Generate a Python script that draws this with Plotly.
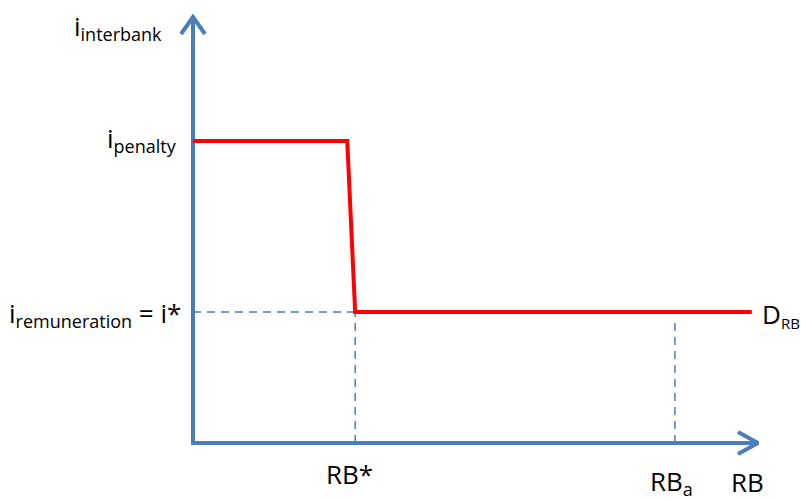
import plotly.graph_objects as go

# Conceptual chart values (axis units 0-100)
i_penalty = 70.9
i_remuneration = 30.75
rb_kink = 27.3
rb_star = 28.7
rb_a = 85.3
rb_a_dash_top = 28.4
d_end = 98.9
axis_end = 100

demand_x = [0, rb_kink, rb_star, d_end]
demand_y = [i_penalty, i_penalty, i_remuneration, i_remuneration]

BLUE = "#4A7EBB"
RED = "#FF0000"
SX, SY = 5.65, 4.26  # px per unit
OX, OY = 193, 443    # origin pixel


def px(xp, yp):
    return (xp - OX) / SX, (OY - yp) / SY


fig = go.Figure()

# dashed guide lines
fig.add_trace(go.Scatter(x=[0, rb_star], y=[i_remuneration, i_remuneration], mode="lines",
                         line=dict(color=BLUE, width=1.5, dash="8px,6px"), hoverinfo="skip"))
fig.add_trace(go.Scatter(x=[rb_star, rb_star], y=[0, i_remuneration], mode="lines",
                         line=dict(color=BLUE, width=1.5, dash="8px,6px"), hoverinfo="skip"))
fig.add_trace(go.Scatter(x=[rb_a, rb_a], y=[0, rb_a_dash_top], mode="lines",
                         line=dict(color=BLUE, width=1.5, dash="8px,6px"), hoverinfo="skip"))

# axes with arrows
fig.add_trace(go.Scatter(x=[0, 0, axis_end], y=[axis_end, 0, 0], mode="lines",
                         line=dict(color=BLUE, width=4), hoverinfo="skip"))
fig.add_trace(go.Scatter(x=[-12 / SX, 0, 12 / SX], y=[axis_end - 17 / SY, axis_end, axis_end - 17 / SY],
                         mode="lines", line=dict(color=BLUE, width=4), hoverinfo="skip"))
fig.add_trace(go.Scatter(x=[axis_end - 20 / SX, axis_end, axis_end - 20 / SX], y=[11 / SY, 0, -11 / SY],
                         mode="lines", line=dict(color=BLUE, width=4), hoverinfo="skip"))

# demand curve
fig.add_trace(go.Scatter(x=demand_x, y=demand_y, mode="lines",
                         line=dict(color=RED, width=4), hoverinfo="skip"))

FONT = dict(family="Open Sans, Lato, sans-serif", size=26, color="#000000")


def sub(s, size=18):
    return f"<sub><span style='font-size:{size}px'>{s}</span></sub>"


labels = [
    ("i" + sub("interbank"), 72, 27, "left"),
    ("i" + sub("penalty"), 179, 139, "right"),
    ("i" + sub("remuneration") + " = i*", 183, 314, "right"),
    ("D" + sub("RB", 15), 760, 314, "left"),
    ("RB*", 349, 474, "center"),
    ("RB" + sub("a"), 648, 482, "left"),
    ("RB", 747, 482, "center"),
]
for text, xp, yp, anchor in labels:
    xv, yv = px(xp, yp)
    fig.add_annotation(x=xv, y=yv, xref="x", yref="y", text=text, showarrow=False,
                       xanchor=anchor, yanchor="middle", font=FONT)

fig.update_layout(
    width=801, height=500,
    margin=dict(l=0, r=0, t=0, b=0),
    paper_bgcolor="white", plot_bgcolor="white",
    showlegend=False,
    xaxis=dict(visible=False, range=[(0 - OX) / SX, (801 - OX) / SX], fixedrange=True),
    yaxis=dict(visible=False, range=[(OY - 500) / SY, OY / SY], fixedrange=True),
)

fig.write_html("out.html", config={"displayModeBar": False},
               post_script="document.body.style.margin='0';document.body.style.overflow='hidden';")
